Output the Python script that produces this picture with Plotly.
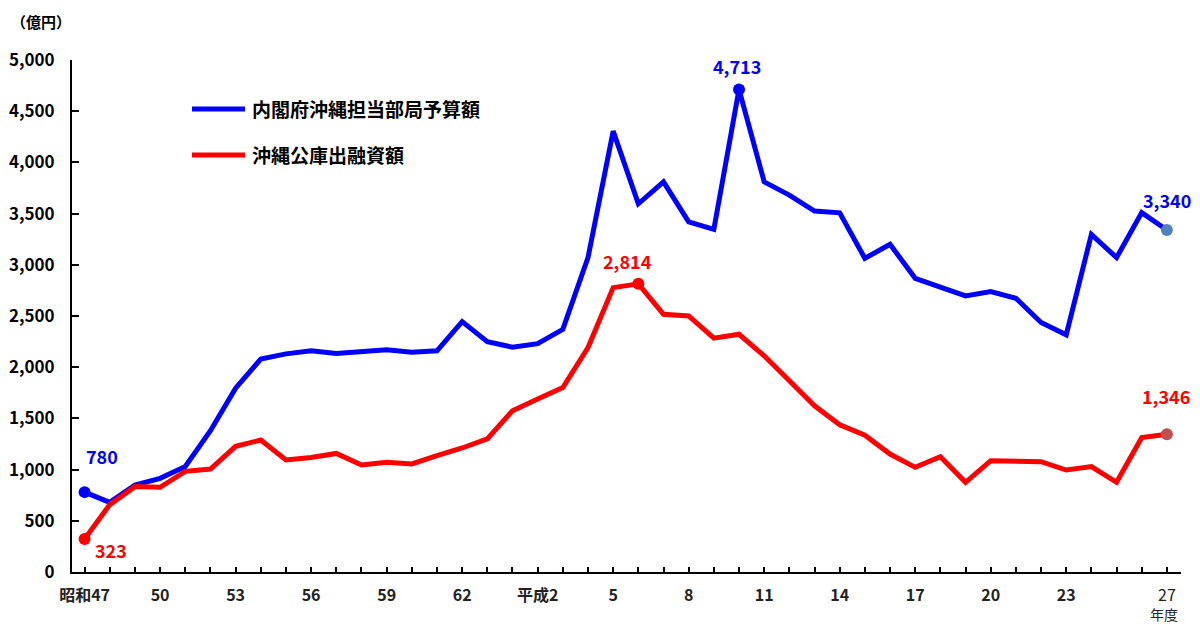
import plotly.graph_objects as go

# ---- data -------------------------------------------------------------
fiscal_years = list(range(1972, 2016))  # 昭和47 .. 平成27

budget = [780, 680, 850, 915, 1030, 1380, 1795, 2080, 2130, 2160,
          2135, 2155, 2170, 2145, 2160, 2445, 2250, 2195, 2230, 2370,
          3070, 4305, 3596, 3810, 3420, 3346, 4713, 3810, 3681, 3525,
          3508, 3063, 3200, 2868, 2784, 2696, 2738, 2673, 2436, 2316,
          3297, 3070, 3510, 3340]

loans = [323, 658, 834, 827, 983, 1006, 1227, 1289, 1094, 1119,
         1158, 1045, 1071, 1055, 1136, 1211, 1300, 1575, 1689, 1802,
         2192, 2777, 2814, 2517, 2501, 2283, 2322, 2111, 1867, 1623,
         1438, 1336, 1152, 1022, 1126, 876, 1087, 1077, 1077, 996,
         1029, 876, 1314, 1346]

tick_labels = ["<b>昭和47</b>", "", "", "<b>50</b>", "", "", "<b>53</b>", "", "", "<b>56</b>",
               "", "", "<b>59</b>", "", "", "<b>62</b>", "", "", "<b>平成2</b>", "",
               "", "<b>5</b>", "", "", "<b>8</b>", "", "", "<b>11</b>", "", "",
               "<b>14</b>", "", "", "<b>17</b>", "", "", "<b>20</b>", "", "", "<b>23</b>",
               "", "", "", "27"]

series_names = ["内閣府沖縄担当部局予算額", "沖縄公庫出融資額"]
unit_label = "（億円）"
x_unit_label = "年度"

# ---- style ------------------------------------------------------------
FONT = "Noto Sans CJK JP"
BLUE = "#0000FF"
RED = "#FF0000"
BLUE_END = "#4F81BD"
RED_END = "#C0504D"

fig = go.Figure()

fig.add_trace(go.Scatter(x=fiscal_years, y=budget, mode="lines",
                         line=dict(color=BLUE, width=5), name=series_names[0],
                         showlegend=False))
fig.add_trace(go.Scatter(x=fiscal_years, y=loans, mode="lines",
                         line=dict(color=RED, width=5), name=series_names[1],
                         showlegend=False))

# highlighted points: first, peak, last
def highlight(values, color, end_color):
    peak = values.index(max(values))
    idx = [0, peak, len(values) - 1]
    fig.add_trace(go.Scatter(
        x=[fiscal_years[i] for i in idx], y=[values[i] for i in idx],
        mode="markers", showlegend=False,
        marker=dict(size=12, color=[color, color, end_color], line=dict(width=0))))
    return idx

b_idx = highlight(budget, BLUE, BLUE_END)
l_idx = highlight(loans, RED, RED_END)

annotations = []
label_font = dict(family=FONT, size=18, weight="bold")

b_shifts = [(17, 36), (-2, 23), (0, 30)]
for i, (dx, dy) in zip(b_idx, b_shifts):
    annotations.append(dict(x=fiscal_years[i], y=budget[i], xref="x", yref="y",
                            text=f"{budget[i]:,}", showarrow=False,
                            xshift=dx, yshift=dy,
                            font=dict(label_font, color=BLUE)))
l_shifts = [(26, -11), (-11, 23), (-1, 38)]
for i, (dx, dy) in zip(l_idx, l_shifts):
    annotations.append(dict(x=fiscal_years[i], y=loans[i], xref="x", yref="y",
                            text=f"{loans[i]:,}", showarrow=False,
                            xshift=dx, yshift=dy,
                            font=dict(label_font, color=RED)))

annotations.append(dict(x=-0.028, y=1.076, xref="paper", yref="paper",
                        text=unit_label, showarrow=False,
                        xanchor="center", yanchor="middle",
                        font=dict(family=FONT, size=15, weight="bold", color="black")))
annotations.append(dict(x=fiscal_years[-1], y=-0.082, xref="x", yref="paper",
                        text=x_unit_label, showarrow=False, xshift=-3,
                        xanchor="center", yanchor="middle",
                        font=dict(family=FONT, size=14, color="#222")))

# legend (manual)
shapes = []
legend_y = [0.9043, 0.8145]
for name, color, ly in zip(series_names, [BLUE, RED], legend_y):
    shapes.append(dict(type="line", xref="paper", yref="paper",
                       x0=0.1082, x1=0.156, y0=ly, y1=ly,
                       line=dict(color=color, width=5)))
    annotations.append(dict(x=0.1605, y=ly, xref="paper", yref="paper",
                            text=name, showarrow=False,
                            xanchor="left", yanchor="middle",
                            font=dict(family=FONT, size=19, weight="bold", color="black")))

fig.update_layout(
    width=1200, height=625, autosize=False,
    margin=dict(l=64, r=27, t=52, b=61),
    plot_bgcolor="white", paper_bgcolor="white",
    font=dict(family=FONT, color="black"),
    annotations=annotations, shapes=shapes,
    showlegend=False,
)

fig.update_xaxes(
    range=[1971.5, 2015.56], tickmode="array",
    tickvals=fiscal_years, ticktext=tick_labels,
    ticks="inside", ticklen=5, tickwidth=2, tickcolor="black",
    showline=True, linewidth=2, linecolor="black",
    showgrid=False, zeroline=False, automargin=False,
    tickfont=dict(family=FONT, size=16, color="#222"),
    ticklabelstandoff=8,
)
fig.update_yaxes(
    range=[0, 5000], dtick=500, tickformat=",",
    ticks="inside", ticklen=7, tickwidth=2, tickcolor="black",
    showline=True, linewidth=2, linecolor="black",
    showgrid=False, zeroline=False, automargin=False,
    tickfont=dict(family=FONT, size=17, weight="bold", color="black"),
    ticklabelstandoff=12,
)

fig.write_html("out.html")
